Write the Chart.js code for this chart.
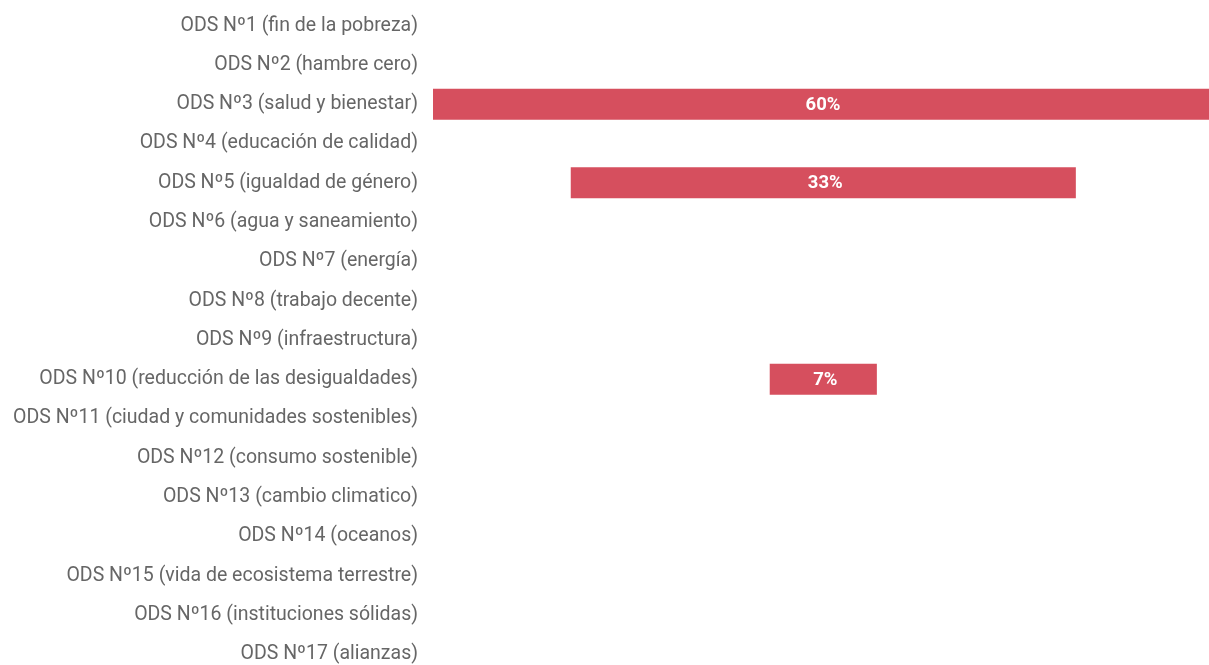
<!DOCTYPE html>
<html>
<head>
<meta charset="utf-8">
<script src="https://cdn.jsdelivr.net/npm/chart.js@4.4.1/dist/chart.umd.min.js"></script>
<style>
    html, body { margin: 0; padding: 0; background: #fff; overflow: hidden; }
    #wrap { width: 1209px; height: 680px; position: relative; }
</style>
</head>
<body>
<div id="wrap"><canvas id="chart"></canvas></div>
<script>
/* ================= DATA ================= */
const categories = [
    "ODS Nº1 (fin de la pobreza)",
    "ODS Nº2 (hambre cero)",
    "ODS Nº3 (salud y bienestar)",
    "ODS Nº4 (educación de calidad)",
    "ODS Nº5 (igualdad de género)",
    "ODS Nº6 (agua y saneamiento)",
    "ODS Nº7 (energía)",
    "ODS Nº8 (trabajo decente)",
    "ODS Nº9 (infraestructura)",
    "ODS Nº10 (reducción de las desigualdades)",
    "ODS Nº11 (ciudad y comunidades sostenibles)",
    "ODS Nº12 (consumo sostenible)",
    "ODS Nº13 (cambio climatico)",
    "ODS Nº14 (oceanos)",
    "ODS Nº15 (vida de ecosistema terrestre)",
    "ODS Nº16 (instituciones sólidas)",
    "ODS Nº17 (alianzas)"
];
const percentages = [0, 0, 60, 0, 33, 0, 0, 0, 0, 7, 0, 0, 0, 0, 0, 0, 0];

const BAR_COLOR = "#d64f5e";

/* bars are centred on zero: [-v/2, v/2] */
const centred = percentages.map(v => v > 0 ? [-v / 2, v / 2] : null);

/* ================= VALUE LABELS ================= */
const valueLabels = {
    id: "valueLabels",
    afterDatasetsDraw(chart) {
        const ctx = chart.ctx;
        const area = chart.chartArea;
        const meta = chart.getDatasetMeta(0);
        ctx.save();
        ctx.fillStyle = "#ffffff";
        ctx.font = "bold 18.5px Roboto";
        ctx.textAlign = "center";
        ctx.textBaseline = "middle";
        meta.data.forEach((bar, i) => {
            if (!percentages[i]) return;
            const left = Math.max(Math.min(bar.x, bar.base), area.left);
            const right = Math.min(Math.max(bar.x, bar.base), area.right);
            ctx.fillText(percentages[i] + "%", (left + right) / 2 + 2, bar.y + 1);
        });
        ctx.restore();
    }
};

/* ================= CHART ================= */
new Chart(document.getElementById("chart"), {
    type: "bar",
    data: {
        labels: categories,
        datasets: [{
            data: centred,
            backgroundColor: BAR_COLOR,
            borderWidth: 0,
            barPercentage: 0.79,
            categoryPercentage: 1
        }]
    },
    options: {
        indexAxis: "y",
        responsive: true,
        maintainAspectRatio: false,
        animation: false,
        layout: { padding: { top: 6, bottom: 6, left: 0, right: 0 } },
        plugins: {
            legend: { display: false },
            tooltip: { enabled: false }
        },
        scales: {
            x: {
                display: false,
                min: -25.5,
                max: 25.2
            },
            y: {
                grid: { display: false, drawTicks: false },
                border: { display: false },
                ticks: {
                    color: "#666666",
                    padding: 15,
                    autoSkip: false,
                    font: { family: "Roboto", size: 19.5 }
                },
                afterFit(scale) {
                    scale.width = 433;
                    scale.paddingTop = 0;
                    scale.paddingBottom = 0;
                }
            }
        }
    },
    plugins: [valueLabels]
});
</script>
</body>
</html>
